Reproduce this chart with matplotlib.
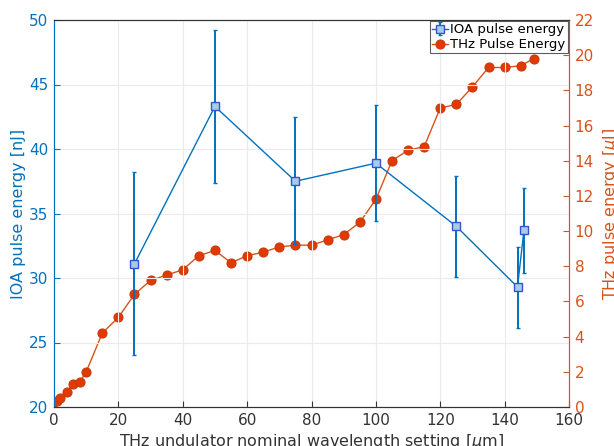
import matplotlib
matplotlib.use("Agg")
import matplotlib.pyplot as plt
import numpy as np

# IOA pulse energy (left axis)
ioa_x = [25, 50, 75, 100, 125, 144, 146]
ioa_y = [31.1, 43.3, 37.5, 38.9, 34.0, 29.3, 33.7]
ioa_lo = [24.0, 37.4, 32.6, 34.4, 30.1, 26.1, 30.4]
ioa_hi = [38.2, 49.2, 42.5, 43.4, 37.9, 32.4, 37.0]

# THz pulse energy (right axis)
thz_x = [0, 1, 2, 4, 6, 8, 10, 15, 20, 25, 30, 35, 40, 45, 50, 55, 60, 65, 70,
         75, 80, 85, 90, 95, 100, 105, 110, 115, 120, 125, 130, 135, 140, 145, 149]
thz_y = [0.3, 0.35, 0.5, 0.85, 1.3, 1.4, 2.0, 4.2, 5.1, 6.4, 7.2, 7.5, 7.8, 8.6,
         8.9, 8.2, 8.6, 8.8, 9.1, 9.2, 9.2, 9.5, 9.8, 10.5, 11.8, 14.0, 14.6, 14.8,
         17.0, 17.2, 18.2, 19.3, 19.3, 19.4, 19.8]

blue = "#0072BD"
orange = "#D95319"

plt.rcParams['font.family'] = ['DejaVu Sans']
fig = plt.figure(figsize=(6.14, 4.46), dpi=100)
ax = fig.add_axes([54/614, 1 - 407/446, (569-54)/614, (407-20)/446])
ax2 = ax.twinx()

ax.set_zorder(ax2.get_zorder() + 1)
ax.patch.set_visible(False)

yerr = [np.array(ioa_y) - np.array(ioa_lo), np.array(ioa_hi) - np.array(ioa_y)]
h1 = ax.errorbar(ioa_x, ioa_y, yerr=yerr, color=blue, lw=1.0, elinewidth=1.4,
                 capsize=1.5, marker='s', ms=5.5, mfc='#A6CCEA', mec='#3355D0', mew=1.0,
                 label='IOA pulse energy', zorder=3)
h2, = ax2.plot(thz_x, thz_y, color=orange, lw=1.0, marker='o', ms=6.5,
               mfc='#E03A00', mec='#C83A10', mew=0.8, label='THz Pulse Energy')

ax.set_xlim(0, 160)
ax.set_ylim(20, 50)
ax2.set_ylim(0, 22)
ax.set_xticks(range(0, 161, 20))
ax.set_yticks(range(20, 51, 5))
ax2.set_yticks(range(0, 23, 2))

ax.grid(True, color='#ebebeb', lw=0.8)
ax.set_axisbelow(True)

ax.tick_params(axis='x', direction='in', colors='#333333', labelsize=11, length=4, pad=4)
ax.tick_params(axis='y', direction='in', colors=blue, labelsize=11, length=4, pad=4)
ax2.tick_params(axis='y', direction='in', colors=orange, labelsize=11, length=4, pad=4)

for a in (ax, ax2):
    a.spines['top'].set_color('#333333')
    a.spines['bottom'].set_color('#333333')
    a.spines['left'].set_color(blue)
    a.spines['right'].set_color(orange)
    for s in a.spines.values():
        s.set_linewidth(0.8)

ax.set_xlabel('THz undulator nominal wavelength setting [$\\mu$m]', fontsize=11.5,
              color='#333333', labelpad=3)
ax.set_ylabel('IOA pulse energy [nJ]', fontsize=11.5, color=blue, labelpad=2)
ax2.set_ylabel('THz pulse energy [$\\mu$J]', fontsize=11.5, color=orange, labelpad=5)

leg = ax.legend([h1, h2], ['IOA pulse energy', 'THz Pulse Energy'], loc='upper right',
                fontsize=9.5, frameon=True, fancybox=False, borderpad=0.15,
                labelspacing=0.15, handlelength=1.2, handletextpad=0.2,
                borderaxespad=0.1)
leg.get_frame().set_edgecolor('#333333')
leg.get_frame().set_linewidth(0.8)

fig.savefig('out.png', dpi=100)
